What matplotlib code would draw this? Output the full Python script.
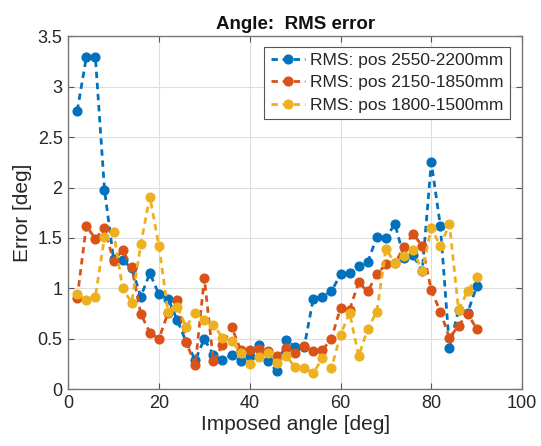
import matplotlib
matplotlib.use("Agg")
from matplotlib import pyplot as plt

# imposed angle [deg]
angles = list(range(2, 92, 2))

rms_2550_2200 = [
    2.76, 3.29, 3.29, 1.98, 1.29, 1.28, 1.20, 0.92, 1.15, 0.94,
    0.90, 0.69, 0.47, 0.29, 0.50, 0.34, 0.29, 0.34, 0.28, 0.33,
    0.44, 0.28, 0.18, 0.49, 0.42, 0.42, 0.90, 0.92, 0.97, 1.14,
    1.15, 1.22, 1.26, 1.51, 1.50, 1.64, 1.30, 1.33, 1.17, 2.25,
    1.62, 0.41, 0.79, 0.76, 1.02,
]
rms_2150_1850 = [
    0.91, 1.62, 1.49, 1.60, 1.27, 1.38, 1.21, 0.75, 0.56, 0.50,
    0.76, 0.89, 0.47, 0.24, 1.10, 0.28, 0.44, 0.62, 0.39, 0.39,
    0.40, 0.38, 0.33, 0.41, 0.36, 0.43, 0.38, 0.39, 0.50, 0.81,
    0.79, 1.06, 0.97, 1.14, 1.24, 1.25, 1.41, 1.54, 1.42, 0.98,
    0.77, 0.51, 0.63, 0.75, 0.60,
]
rms_1800_1500 = [
    0.94, 0.89, 0.92, 1.51, 1.56, 1.00, 0.86, 1.44, 1.91, 1.42,
    0.77, 0.82, 0.62, 0.76, 0.69, 0.64, 0.51, 0.48, 0.36, 0.25,
    0.32, 0.36, 0.26, 0.33, 0.22, 0.21, 0.16, 0.31, 0.21, 0.54,
    0.76, 0.33, 0.60, 0.77, 1.39, 1.25, 1.32, 1.38, 1.17, 1.60,
    1.42, 1.64, 0.79, 0.97, 1.11,
]

series_labels = [
    "RMS: pos 2550-2200mm",
    "RMS: pos 2150-1850mm",
    "RMS: pos 1800-1500mm",
]
x_ticks = [0, 20, 40, 60, 80, 100]
y_ticks = [0, 0.5, 1, 1.5, 2, 2.5, 3, 3.5]
y_tick_labels = ["0", "0.5", "1", "1.5", "2", "2.5", "3", "3.5"]

colors = ["#0072BD", "#D95319", "#EDB120"]
text_color = "#262626"

plt.rcParams["font.family"] = ["Liberation Sans", "DejaVu Sans"]

fig = plt.figure(figsize=(5.41, 4.46), dpi=100)
ax = fig.add_axes([0.126, 0.127, 0.839, 0.792])

for values, label, color in zip(
    [rms_2550_2200, rms_2150_1850, rms_1800_1500], series_labels, colors
):
    ax.plot(
        angles,
        values,
        linestyle=(0, (2.3, 1.7)),
        linewidth=2.0,
        color=color,
        marker="o",
        markersize=6.3,
        markeredgecolor=color,
        label=label,
    )

ax.set_xlim(0, 100)
ax.set_ylim(0, 3.5)
ax.set_xticks(x_ticks)
ax.set_yticks(y_ticks)
ax.set_yticklabels(y_tick_labels)
ax.grid(True, color="#dedede", linewidth=0.8)
ax.set_axisbelow(True)

ax.tick_params(
    direction="in", top=True, right=True, length=4, width=0.8,
    color="#555555", labelsize=13, labelcolor=text_color, pad=4,
)
for spine in ax.spines.values():
    spine.set_color("#777777")
    spine.set_linewidth(1.0)

ax.set_xlabel("Imposed angle [deg]", fontsize=15, color=text_color, labelpad=2)
ax.set_ylabel("Error [deg]", fontsize=15, color=text_color, labelpad=4)
ax.set_title("Angle:  RMS error", fontsize=13.5, fontweight="bold",
             color="#111111", pad=5)

leg = ax.legend(
    loc="upper right",
    bbox_to_anchor=(0.985, 0.985),
    fontsize=12.5,
    handlelength=2.0,
    handletextpad=0.3,
    borderpad=0.35,
    labelspacing=0.42,
    borderaxespad=0.3,
    fancybox=False,
    framealpha=1.0,
    edgecolor="#555555",
)
leg.get_frame().set_linewidth(0.8)
for text in leg.get_texts():
    text.set_color(text_color)

fig.savefig("out.png", dpi=100)
plt.close(fig)
